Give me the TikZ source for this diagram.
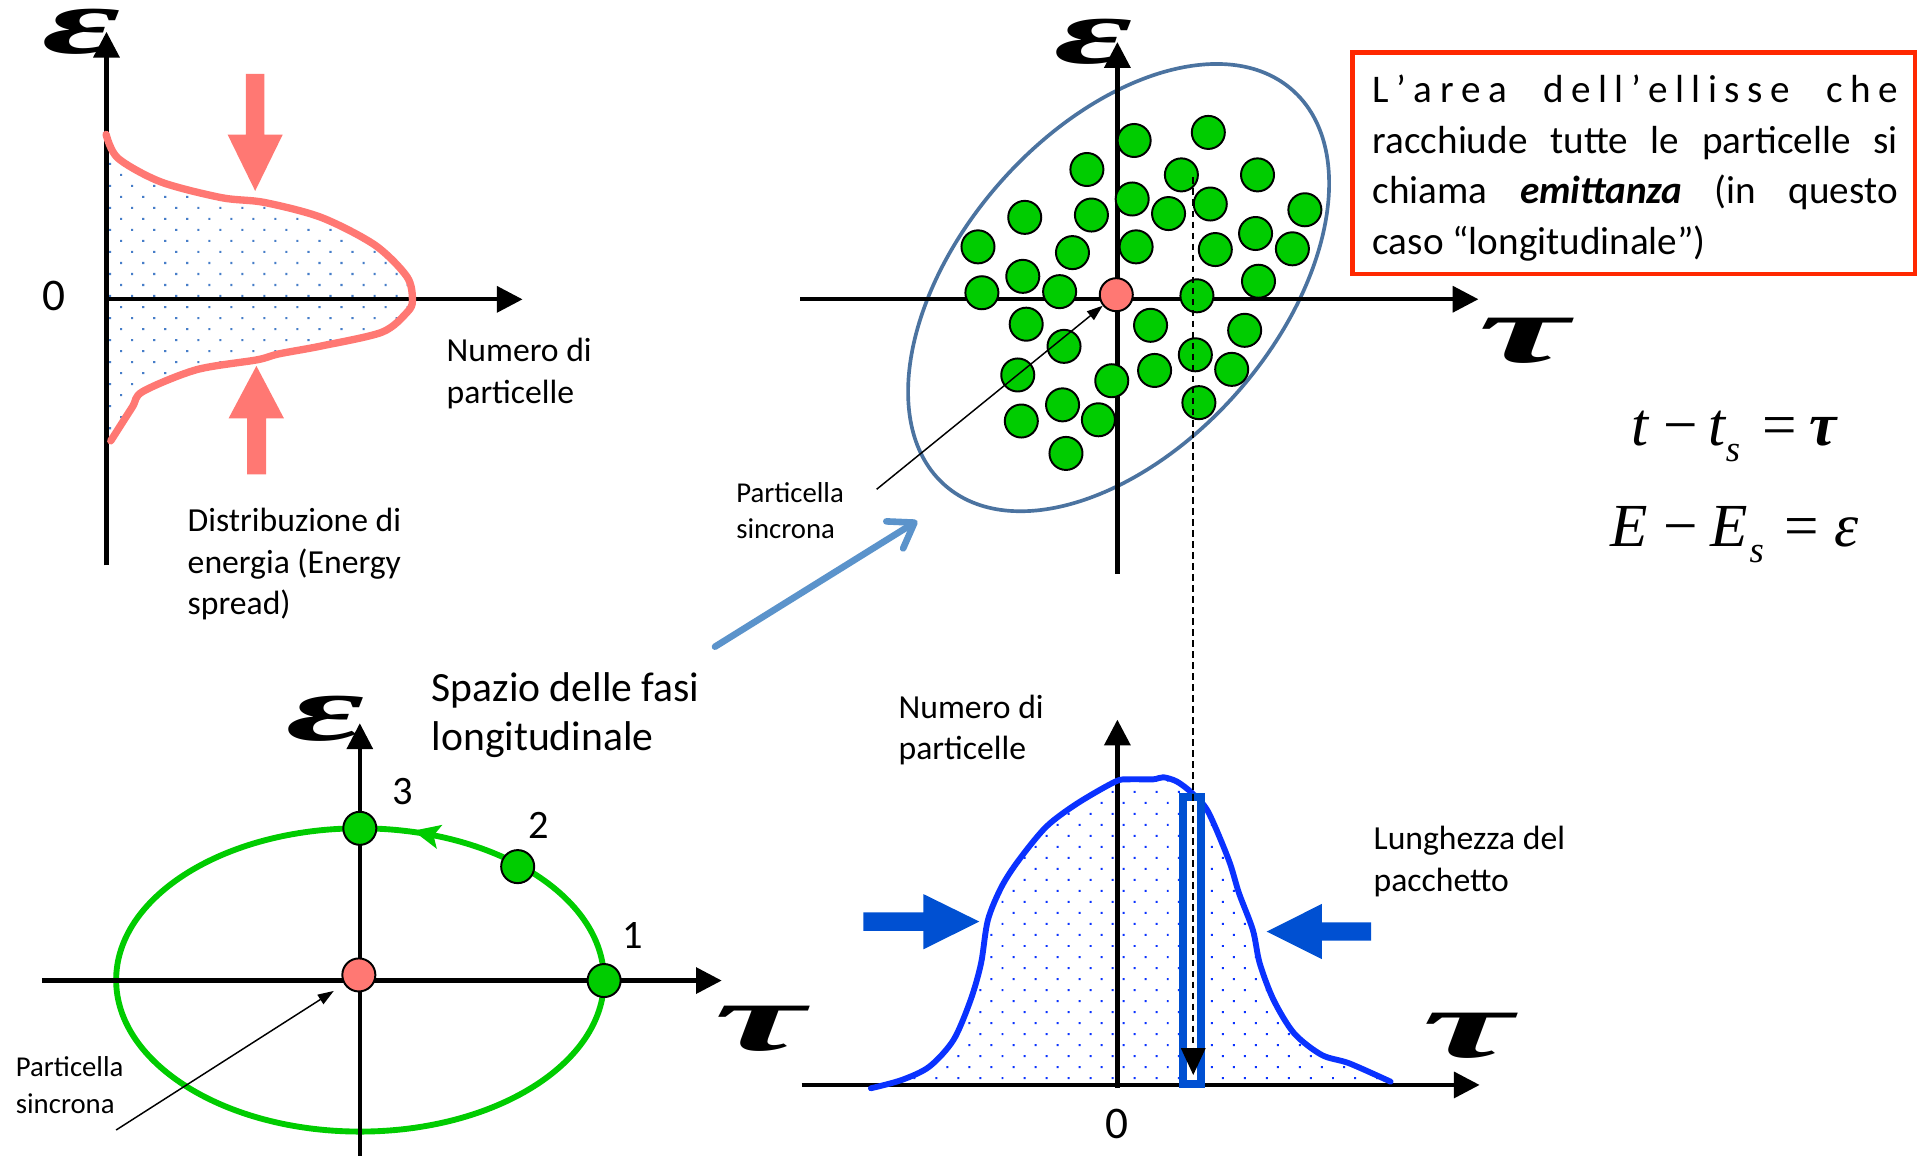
\documentclass[tikz,border=0pt]{standalone}
\usepackage{fontspec}
\usepackage{graphicx}
\setmainfont{Carlito}
\newfontfamily\tms{Liberation Serif}
\usetikzlibrary{arrows.meta,patterns.meta}
\definecolor{pinkc}{RGB}{255,120,115}
\definecolor{dotlb}{RGB}{70,125,200}
\definecolor{greenc}{RGB}{0,204,0}
\definecolor{ellc}{RGB}{75,115,160}
\definecolor{bluec}{RGB}{10,50,255}
\definecolor{blockb}{RGB}{0,80,210}
\definecolor{arrlb}{RGB}{91,147,203}
\definecolor{boxred}{RGB}{255,40,0}
\definecolor{dotb}{RGB}{10,50,255}
\newcommand\epsbig{\resizebox*{64pt}{37pt}{\tms\bfseries\itshape ε}}
\newcommand\taubig{\resizebox*{74pt}{37pt}{\tms\bfseries\itshape τ}}
\newcommand\lsp{\hspace{6.1pt}}
\begin{document}
\begin{tikzpicture}[x=1pt,y=-1pt,
  ax/.style={line width=3.5pt,-{Triangle[length=21pt,width=21pt]}},
  gp/.style={circle,draw=black,line width=1.6pt,fill=greenc,minimum size=27pt,inner sep=0pt},
  rp/.style={gp,fill=pinkc},
  txt/.style={inner sep=0pt,anchor=base west,align=left,font=\fontsize{27.5pt}{34pt}\selectfont},
  smalltxt/.style={inner sep=0pt,anchor=base west,align=left,font=\fontsize{23.5pt}{30pt}\selectfont},
  digit/.style={inner sep=0pt,anchor=base,font=\fontsize{33pt}{36pt}\selectfont},
  thinarr/.style={line width=1.2pt,-{Triangle[length=13pt,width=9pt]}},
  sym/.style={inner sep=0pt,anchor=center},
  eq/.style={inner sep=0pt,anchor=base west,font=\tms\fontsize{50pt}{56pt}\selectfont}]
\fill[white] (0,0) rectangle (1568,944);
\useasboundingbox (0,0) rectangle (1568,944);

% ---------------- top-left: energy distribution
\fill[pattern={Dots[distance=12.73pt,angle=45,radius=1.2pt]},pattern color=dotlb]
  plot[smooth,tension=0.5] coordinates {(86.7,109.8) (96.3,129.2) (131.3,148.6) (180.9,161.5) (215.9,165.4) (262.6,177.7) (306.4,200.3) (332.6,226.2) (337,245.5) (332.6,255.2) (312.2,271.4) (262.6,282.7) (227.6,289.2) (210.1,294) (160.5,302.1) (116.7,319.9) (108,332.8) (90.5,360.2)} -- (87,360.2) -- cycle;
\coordinate (tlV0) at (87,462); \coordinate (tlV1) at (87,26);
\coordinate (tlH0) at (87,244.6); \coordinate (tlH1) at (427,244.6);
\draw[ax] (tlV0) -- (tlV1);
\draw[ax] (tlH0) -- (tlH1);
\draw[pinkc,line width=6pt,line cap=round]
  plot[smooth,tension=0.5] coordinates {(86.7,109.8) (96.3,129.2) (131.3,148.6) (180.9,161.5) (215.9,165.4) (262.6,177.7) (306.4,200.3) (332.6,226.2) (337,245.5) (332.6,255.2) (312.2,271.4) (262.6,282.7) (227.6,289.2) (210.1,294) (160.5,302.1) (116.7,319.9) (108,332.8) (90.5,360.2)};
\fill[pinkc] (201,60.4) -- (216,60.4) -- (216,110) -- (231,110) -- (208.5,156) -- (186,110) -- (201,110) -- cycle;
\fill[pinkc] (202,387.7) -- (217.4,387.7) -- (217.4,341.8) -- (232,341.8) -- (209.5,299) -- (186.8,341.8) -- (202,341.8) -- cycle;
\node[sym] (tleps) at (67,26) {\epsbig};
\node[inner sep=0pt,anchor=base,font=\fontsize{37pt}{40pt}\selectfont] (tlzero) at (43.7,253.6) {0};
\node[txt] (tlnum) at (364.8,329.6) {Numero di\\particelle};
\node[txt] (tldist) at (153.2,502.5) {Distribuzione di\\energia (Energy\\spread)};

% ---------------- top-right: phase space with many particles
\draw[ellc,line width=3pt,rotate around={48.7:(914,235)}] (914,235) ellipse [x radius=215pt,y radius=129.4pt];
\coordinate (trV0) at (913,469); \coordinate (trV1) at (913,34.4);
\coordinate (trH0) at (654,244.5); \coordinate (trH1) at (1208,244.5);
\draw[ax] (trV0) -- (trV1);
\draw[ax] (trH0) -- (trH1);
\foreach \px/\py [count=\i] in {926.7/114.8, 987.3/108.2, 888.1/138.5, 965.3/142.9, 1027.5/142.9, 925.1/162.6, 954.8/174.5, 988.9/166.7, 891.8/175.7, 837.3/177.6, 1066.2/171.4, 1025.9/190.8, 799.1/201.7, 928.3/201.7, 876.3/206.4, 993/203.9, 1056/203.3, 835.7/225.8, 1028.3/229.8, 802.3/239.2, 865.8/238.3, 978/241.7, 838.5/264.9, 940.1/265.8, 1017/269.9, 869.4/283, 976.7/289.9, 831.6/306.4, 943.4/302.7, 1006.4/301.8, 908.4/311.1, 868.2/330.8, 834.5/344, 897.5/343, 979.6/329, 871/370.5}
  \node[gp] (tp\i) at (\px,\py) {};
\node[rp] (tpS) at (912.1,240.8) {};
\coordinate (tsA) at (716.3,399.8);
\draw[thinarr] (tsA) -- (tpS);
\coordinate (dsA) at (975,145); \coordinate (dsB) at (975,878.4);
\node[sym] (treps) at (893.3,34) {\epsbig};
\node[sym] (trtau) at (1245,278.5) {\taubig};
\node[smalltxt] (trpart) at (601.4,440.4) {Particella\\sincrona};

% ---------------- bottom-left: single particle trajectory
\draw[greenc,line width=4.8pt] (294.2,800.7) ellipse [x radius=199.3pt,y radius=123.9pt];
\coordinate (gaA) at (375.3,687.5); \coordinate (gaB) at (337.7,678.8);
\draw[greenc,line width=1pt,-{Stealth[length=22pt,width=20pt,inset=5pt]}] (gaA) -- (gaB);
\coordinate (blV0) at (294,950); \coordinate (blV1) at (294,591);
\coordinate (blH0) at (34.2,801.2); \coordinate (blH1) at (589.7,801.2);
\draw[ax,line width=3pt] (blV0) -- (blV1);
\draw[ax] (blH0) -- (blH1);
\node[rp] (blS) at (293.2,796.6) {};
\node[gp] (bl3) at (294,676.8) {};
\node[gp] (bl2) at (423,708.1) {};
\node[gp] (bl1) at (493.6,801.2) {};
\node[digit] (lab3) at (329.3,657.7) {3};
\node[digit] (lab2) at (440,685) {2};
\node[digit] (lab1) at (516.8,774.8) {1};
\node[sym] (bleps) at (266,587.5) {\epsbig};
\node[sym] (bltau) at (620.8,841) {\taubig};
\node[inner sep=0pt,anchor=base west,align=left,font=\fontsize{34pt}{40pt}\selectfont] (blspace) at (352.6,613.3) {Spazio delle fasi\\longitudinale};
\node[smalltxt] (blpart) at (12.8,909.7) {Particella\\sincrona};
\coordinate (bsA) at (94.9,923.3);
\draw[thinarr,shorten >=10pt] (bsA) -- (blS);

% ---------------- bottom-right: bunch length
\fill[pattern={Dots[distance=12.73pt,angle=45,radius=1.15pt]},pattern color=dotb]
  plot[smooth,tension=0.5] coordinates {(711.6,889.2) (736.9,882.4) (759.4,871.5) (779.1,849.7) (793.1,817) (801.6,787.1) (807.2,751.7) (818.4,724.5) (832.5,702.7) (855,675.4) (880.3,656.4) (911.2,638.7) (922.5,636.8) (942.2,636.8) (950.6,635.1) (961.8,638.7) (974.2,648.2) (987.1,663.2) (1004,702.7) (1012.4,729.9) (1023.7,759.9) (1029.3,787.1) (1040.6,817) (1057.4,844.3) (1080,862) (1102.4,868.8) (1136.2,883.8)} -- (1136.2,886.5) -- (711.6,886.5) -- cycle;
\coordinate (brV0) at (913,889); \coordinate (brV1) at (913,588);
\coordinate (brH0) at (655,886.5); \coordinate (brH1) at (1209,886.5);
\draw[ax] (brV0) -- (brV1);
\draw[ax] (brH0) -- (brH1);
\draw[bluec,line width=4.8pt,line cap=round]
  plot[smooth,tension=0.5] coordinates {(711.6,889.2) (736.9,882.4) (759.4,871.5) (779.1,849.7) (793.1,817) (801.6,787.1) (807.2,751.7) (818.4,724.5) (832.5,702.7) (855,675.4) (880.3,656.4) (911.2,638.7) (922.5,636.8) (942.2,636.8) (950.6,635.1) (961.8,638.7) (974.2,648.2) (987.1,663.2) (1004,702.7) (1012.4,729.9) (1023.7,759.9) (1029.3,787.1) (1040.6,817) (1057.4,844.3) (1080,862) (1102.4,868.8) (1136.2,883.8)};
\node[draw=blockb,line width=6.3pt,fill=white,minimum width=15pt,minimum height=234.7pt,inner sep=0pt] (bar) at (974,768.35) {};
\draw[line width=1.3pt,dash pattern=on 5.5pt off 3.5pt,-{Triangle[length=22pt,width=20pt]}] (dsA) -- (dsB);
\fill[blockb] (705.4,745.4) -- (754.4,745.4) -- (754.4,730.5) -- (800.2,753) -- (754.4,775.7) -- (754.4,760.7) -- (705.4,760.7) -- cycle;
\fill[blockb] (1120.4,753.6) -- (1080,753.6) -- (1080,738.6) -- (1035,761.2) -- (1080,783.6) -- (1080,768.6) -- (1120.4,768.6) -- cycle;
\node[txt] (brnum) at (734.1,620.9) {Numero di\\particelle};
\node[txt] (brlen) at (1122.2,728.5) {Lunghezza del\\pacchetto};
\node[inner sep=0pt,anchor=base,font=\fontsize{37pt}{40pt}\selectfont] (brzero) at (912.7,930) {0};
\node[sym] (brtau) at (1199.5,846.4) {\taubig};

% ---------------- big light-blue arrow
\coordinate (lbA) at (584.2,528.4); \coordinate (lbB) at (749.5,425.6);
\draw[arrlb,line width=5.4pt,line cap=round,-{Straight Barb[length=19pt,width=26pt,round]}] (lbA) -- (lbB);

% ---------------- text box
\node[draw=boxred,line width=3.6pt,minimum width=459.5pt,minimum height=181pt,inner sep=0pt] (box) at (1334.75,133.5) {};
\node[inner sep=0pt,anchor=base west,align=left,font=\fontsize{32pt}{41.4pt}\selectfont] (boxtxt) at (1121.4,207.9)
 {\makebox[429pt][s]{L\lsp’\lsp a\lsp r\lsp e\lsp a\hfill d\lsp e\lsp l\lsp l\lsp’\lsp e\lsp l\lsp l\lsp i\lsp s\lsp s\lsp e\hfill c\lsp h\lsp e}\\
  \makebox[429pt][s]{racchiude\hfill tutte\hfill le\hfill particelle\hfill si}\\
  \makebox[429pt][s]{chiama\hfill \textbf{\textit{emittanza}}\hfill (in\hfill questo}\\
  caso “longitudinale”)};

% ---------------- equations
\node[eq] (eq1) at (1333,364) {\itshape t\hspace{11.8pt}\upshape −\hspace{9.1pt}\itshape t\raisebox{-13pt}{\fontsize{30pt}{30pt}\selectfont s}\hspace{18.2pt}\upshape =\hspace{10pt}\bfseries\itshape τ};
\node[eq] (eq2) at (1316,446.5) {\itshape E\hspace{12.1pt}\upshape −\hspace{10.5pt}\itshape E\hspace{1.5pt}\raisebox{-13pt}{\fontsize{30pt}{30pt}\selectfont s}\hspace{16.8pt}\upshape =\hspace{12.5pt}\itshape ε};
\end{tikzpicture}
\end{document}
